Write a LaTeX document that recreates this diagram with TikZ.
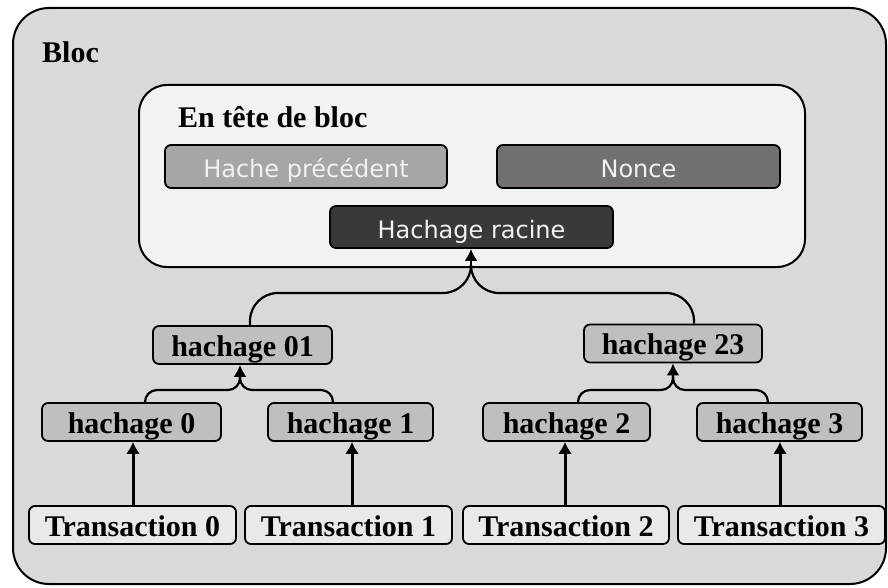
\documentclass[tikz,border=0pt]{standalone}
\usepackage{fontspec}
\setmainfont{Liberation Serif}
\newfontfamily\uisans{DejaVu Sans}
\usetikzlibrary{arrows.meta,calc}

\definecolor{blocfill}{HTML}{D9D9D9}
\definecolor{headfill}{HTML}{F2F2F2}
\definecolor{prevfill}{HTML}{A6A6A6}
\definecolor{noncefill}{HTML}{757070}
\definecolor{rootfill}{HTML}{3B3838}
\definecolor{hashfill}{HTML}{BFBFBF}
\definecolor{txfill}{HTML}{E9E9E9}
\definecolor{lighttext}{HTML}{F2F2F2}

\tikzset{
  serifbold/.style={font=\fontsize{30}{32}\selectfont\bfseries},
  sanslabel/.style={font=\uisans\fontsize{24}{26}\selectfont, text=lighttext},
  box/.style={draw=black, line width=1.8pt, rounded corners=6pt, inner sep=0pt, anchor=center},
  fieldbox/.style={box, sanslabel, minimum height=43pt, text height=24pt, text depth=1.5pt},
  hashbox/.style={box, serifbold, fill=hashfill, minimum height=38pt, text height=24pt, text depth=1.2pt},
  txbox/.style={hashbox, fill=txfill, minimum width=207pt},
  link/.style={line width=2.2pt, rounded corners=#1},
  link/.default=12pt,
  feed/.style={line width=3pt, -{Latex[length=12pt,width=14pt]}},
  tip/.style={line width=2.2pt, -{Latex[length=12pt,width=13pt]}},
}

\begin{document}
\begin{tikzpicture}[x=1pt, y=-1pt]
  \useasboundingbox (0,0) rectangle (888,588);

  % outer block
  \draw[line width=2pt, fill=blocfill, rounded corners=36pt] (13,8) rectangle (886,584);
  \node[serifbold, anchor=west, inner sep=0pt] (bloc) at (42,52) {Bloc};

  % block header
  \draw[line width=2pt, fill=headfill, rounded corners=28pt] (139,85) rectangle (805,267);
  \node[serifbold, anchor=west, inner sep=0pt] (entete) at (178,117) {En tête de bloc};
  \node[fieldbox, fill=prevfill, minimum width=282pt] (prev) at (306,166.5) {Hache précédent};
  \node[fieldbox, fill=noncefill, minimum width=283pt] (nonce) at (638.5,166.5) {Nonce};
  \node[fieldbox, fill=rootfill, minimum width=283pt, minimum height=42pt] (root) at (471.5,227) {Hachage racine};

  % intermediate hashes
  \node[hashbox, minimum width=179pt] (h01) at (242.5,345) {hachage 01};
  \node[hashbox, minimum width=178pt] (h23) at (673,343.5) {hachage 23};

  % leaf hashes
  \node[hashbox, minimum width=179pt] (h0) at (131.5,422) {hachage 0};
  \node[hashbox, minimum width=165pt] (h1) at (350.5,422) {hachage 1};
  \node[hashbox, minimum width=167pt] (h2) at (566.5,422) {hachage 2};
  \node[hashbox, minimum width=165pt] (h3) at (779.5,422) {hachage 3};

  % transactions
  \node[txbox] (t0) at (132.5,525) {Transaction 0};
  \node[txbox] (t1) at (348.5,525) {Transaction 1};
  \node[txbox, minimum width=206pt] (t2) at (566,525) {Transaction 2};
  \node[txbox] (t3) at (781.5,525) {Transaction 3};

  % transactions feed the leaf hashes
  \draw[feed] (t0.north -| 133,0) -- (h0.south -| 133,0);
  \draw[feed] (t1.north -| 352,0) -- (h1.south -| 352,0);
  \draw[feed] (t2.north -| 565,0) -- (h2.south -| 565,0);
  \draw[feed] (t3.north -| 780,0) -- (h3.south -| 780,0);

  % junction points
  \coordinate (j01) at (240,374);
  \coordinate (j23) at (673,373);
  \coordinate (jroot) at (471,266);

  % leaf pairs merge into intermediate hashes
  \draw[link] ([xshift=13.5pt]h0.north) |- (240,390) -- (j01);
  \draw[link] ([xshift=-17.5pt]h1.north) |- (240,390) -- (j01);
  \draw[tip] (j01) -- (h01.south -| j01);
  \draw[link] ([xshift=11.5pt]h2.north) |- (673,390) -- (j23);
  \draw[link] ([xshift=-11.5pt]h3.north) |- (673,390) -- (j23);
  \draw[tip] (j23) -- (h23.south -| j23);

  % intermediate hashes merge into the root hash
  \draw[link=28pt] ([xshift=7.5pt]h01.north) |- (471,293) -- (jroot);
  \draw[link=28pt] ([xshift=21pt]h23.north) |- (471,293) -- (jroot);
  \draw[tip] (jroot) -- (root.south -| jroot);
\end{tikzpicture}
\end{document}
